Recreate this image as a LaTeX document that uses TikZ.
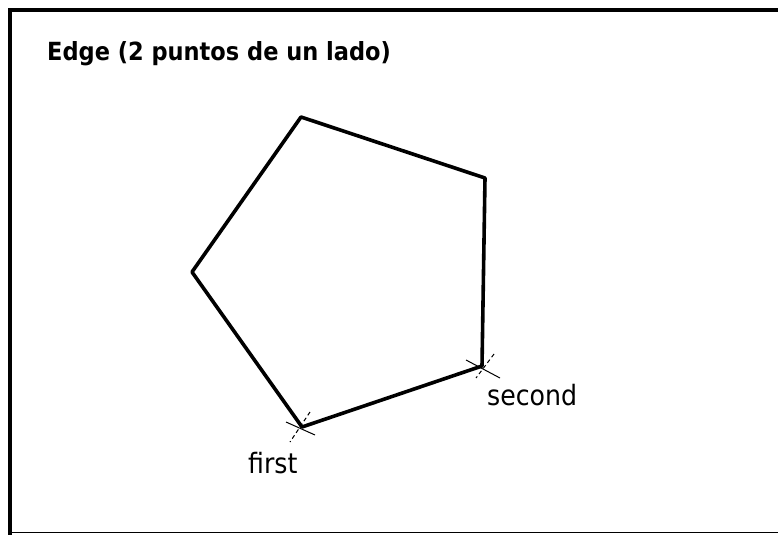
\documentclass[tikz,border=0pt]{standalone}
\usepackage{fontspec}
\setmainfont{DejaVu Sans Condensed}
\usetikzlibrary{calc}
\begin{document}
\begin{tikzpicture}[x=1pt,y=-1pt,
  frame/.style={line width=4pt},
  edgeline/.style={line width=3.6pt,line join=round},
  tick/.style={line width=1pt},
  lbl/.style={font=\fontsize{28}{30}\selectfont,inner sep=0pt}]
\useasboundingbox[fill=white] (0,0) rectangle (778,535);
\draw[frame] (778,10) -- (10,10) -- (10,535);
\draw[line width=1.8pt] (10,532.5) -- (778,532.5);
\node[anchor=base west,inner sep=0pt,font=\bfseries\fontsize{25}{28}\selectfont] (title) at (47,60) {Edge (2 puntos de un lado)};
\coordinate (top) at (301,117);
\coordinate (ur) at (485,178);
\coordinate (sec) at (482,366);
\coordinate (fir) at (302,427);
\coordinate (lft) at (192,272);
\draw[edgeline] (top) -- (ur) -- (sec) -- (fir) -- (lft) -- cycle;
\draw[tick] ($(fir)+(-16,-5)$) -- ($(fir)+(13,8)$);
\draw[tick,dash pattern=on 4pt off 3pt] ($(fir)+(8,-15)$) -- ($(fir)+(-12,15)$);
\draw[tick] ($(sec)+(-16,-6)$) -- ($(sec)+(18,12)$);
\draw[tick,dash pattern=on 4pt off 3pt] ($(sec)+(12,-12)$) -- ($(sec)+(-6,12)$);
\node[lbl,anchor=base west] (first) at (248,473) {first};
\node[lbl,anchor=base west] (second) at (487,405) {second};
\end{tikzpicture}
\end{document}
